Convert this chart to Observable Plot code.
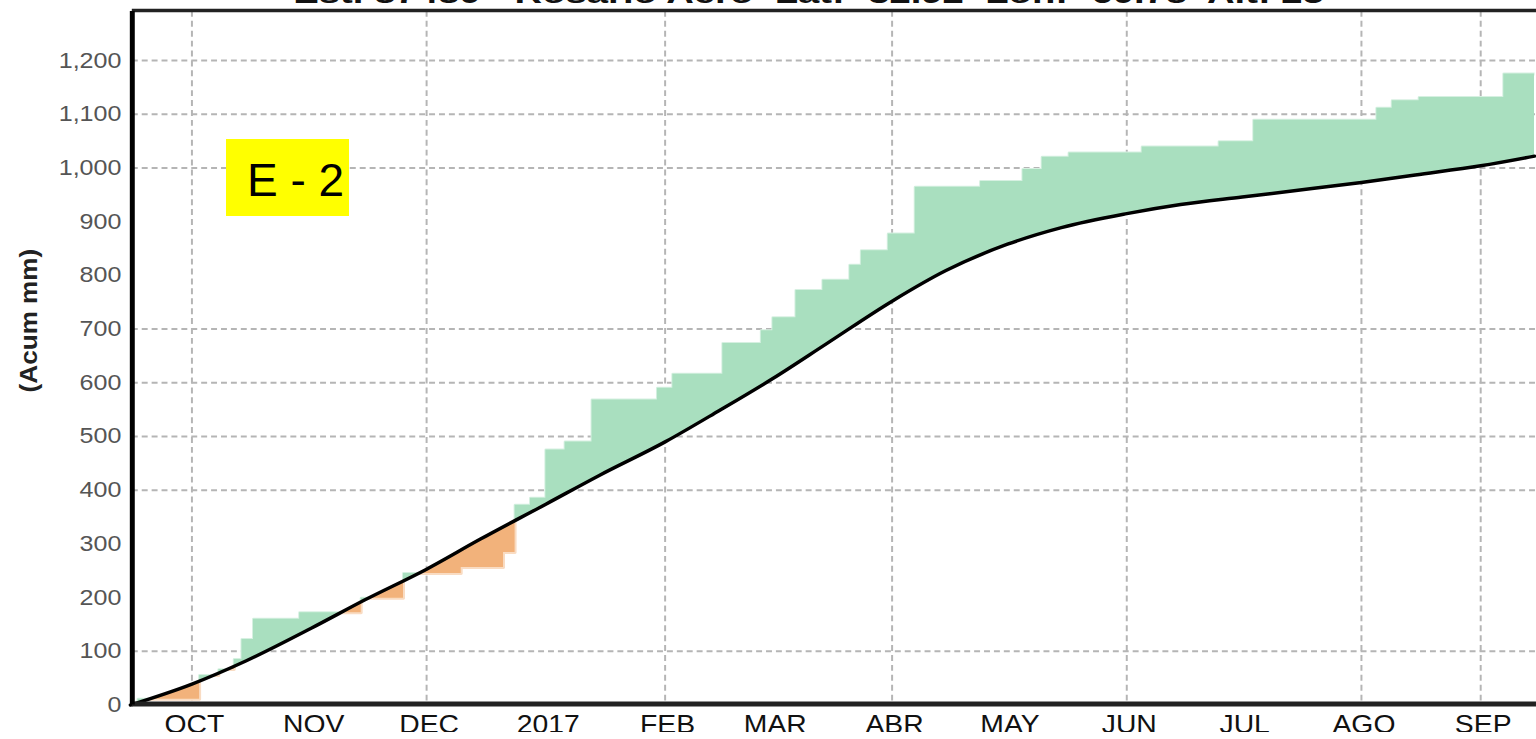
<!DOCTYPE html>
<html><head><meta charset="utf-8">
<script src="https://cdn.jsdelivr.net/npm/d3@7"></script>
<script src="https://cdn.jsdelivr.net/npm/@observablehq/plot@0.6"></script>
<style>
html,body{margin:0;padding:0;overflow:hidden;background:#fff;width:1536px;height:739px;}
#wrap{position:relative;width:1536px;height:739px;overflow:hidden;}
#badge{position:absolute;left:226px;top:139px;width:123px;height:77px;background:#ffff00;font-family:'Liberation Sans',Arial,sans-serif;font-size:46px;color:#000;}
#badge span{position:absolute;left:21px;top:18px;line-height:46px;white-space:nowrap;}
</style></head><body><div id="wrap"></div>
<script>
const stationTitle = "Est. 87480 - Rosario Aero  Lat: -32.92  Lon: -60.78  Alt: 25";
const badgeText = "E - 2";
const yAxisTitle = "(Acum mm)";
const periodStart = "2016-09-15T12:00Z";
const periodEnd = "2017-09-15T12:00Z";
const monthTickDates = ["2016-10-01","2016-11-01","2016-12-01","2017-01-01","2017-02-01","2017-03-01","2017-04-01","2017-05-01","2017-06-01","2017-07-01","2017-08-01","2017-09-01"];
const monthTickLabels = ["OCT","NOV","DEC","2017","FEB","MAR","ABR","MAY","JUN","JUL","AGO","SEP"];
const gridMonthDates = ["2016-10-01","2016-12-01","2017-02-01","2017-04-01","2017-06-01","2017-08-01","2017-09-01"];
const yTickValues = [0,100,200,300,400,500,600,700,800,900,1000,1100,1200];
const yGridValues = [100,400,500,600,700,1000,1100,1200];
const normalDates = ["2016-09-15","2016-10-01","2016-10-15","2016-11-01","2016-11-15","2016-12-01","2016-12-15","2017-01-01","2017-01-15","2017-02-01","2017-02-15","2017-03-01","2017-03-15","2017-04-01","2017-04-15","2017-05-01","2017-05-15","2017-06-01","2017-06-15","2017-07-01","2017-07-15","2017-08-01","2017-08-15","2017-09-01","2017-09-15"];
const normalValues = [0,39,82,143,196,253,309,374,428,490,548,608,673,752,809,858,889,915,932,946,958,973,987,1004,1022];
const observedDates = ["2016-09-15","2016-09-17","2016-10-03","2016-10-08","2016-10-12","2016-10-14","2016-10-17","2016-10-29","2016-11-14","2016-11-25","2016-12-10","2016-12-21","2016-12-24","2016-12-28","2017-01-01","2017-01-06","2017-01-13","2017-01-30","2017-02-03","2017-02-16","2017-02-26","2017-03-01","2017-03-07","2017-03-14","2017-03-21","2017-03-24","2017-03-31","2017-04-07","2017-04-24","2017-05-05","2017-05-10","2017-05-17","2017-06-05","2017-06-25","2017-07-04","2017-08-05","2017-08-09","2017-08-16","2017-09-07","2017-09-15"];
const observedValues = [0,11,55,66,85,122,160,172,199,245,256,284,372,385,475,490,568,590,616,673,697,721,772,791,819,846,877,964,975,997,1020,1028,1039,1049,1089,1111,1125,1131,1175,1175];

const normal = normalDates.map((d,i)=>({date:new Date(d), value:normalValues[i]}));
const observed = observedDates.map((d,i)=>({date:new Date(d), value:observedValues[i]}));
const labelByTime = new Map(monthTickDates.map((d,i)=>[+new Date(d), monthTickLabels[i]]));
const yTop = 1291.5;
const green="#a9dfbf", orange="#f2b27b", paleGreen="#d6f0e1", paleOrange="#f9dcc3", grid="#b5b5b5";

const chart = Plot.plot({
  width:1550, height:739, marginLeft:133, marginRight:0, marginTop:11, marginBottom:28,
  x:{type:"utc", domain:[new Date(periodStart), new Date(periodEnd)]},
  y:{domain:[0,yTop]},
  style:{fontFamily:"'Liberation Sans', Arial, sans-serif", background:"#fff"},
  marks:[
    Plot.ruleY(yGridValues, {stroke:grid, strokeWidth:2, strokeDasharray:"6,4"}),
    Plot.ruleX(gridMonthDates.map(d=>new Date(d)), {stroke:grid, strokeWidth:2, strokeDasharray:"6,4"}),
    Plot.areaY(normal, {x:"date", y1:"value", y2:yTop, curve:"monotone-x", ariaDescription:"clip-above"}),
    Plot.areaY(normal, {x:"date", y1:0, y2:"value", curve:"monotone-x", ariaDescription:"clip-below"}),
    Plot.lineY(observed, {x:"date", y:"value", curve:"step-after", stroke:paleGreen, strokeWidth:3, ariaDescription:"edge-above"}),
    Plot.lineY(observed, {x:"date", y:"value", curve:"step-after", stroke:paleOrange, strokeWidth:3, ariaDescription:"edge-below"}),
    Plot.areaY(observed, {x:"date", y1:0, y2:"value", curve:"step-after", fill:green, ariaDescription:"surplus"}),
    Plot.areaY(observed, {x:"date", y1:"value", y2:yTop, curve:"step-after", fill:orange, ariaDescription:"deficit"}),
    Plot.lineY(normal, {x:"date", y:"value", curve:"monotone-x", stroke:"#000", strokeWidth:3.5}),
    Plot.ruleY([0], {stroke:"#222", strokeWidth:5, dy:-1}),
    Plot.ruleY([yTop], {stroke:"#222", strokeWidth:3.5, dy:-1}),
    Plot.ruleX([new Date(periodStart)], {stroke:"#000", strokeWidth:5, y1:0, y2:yTop}),
    Plot.axisY(yTickValues, {tickSize:0, tickPadding:11, tickFormat:d3.format(","), fontSize:22, fill:"#555", label:null}),
    Plot.axisX(monthTickDates.map(d=>new Date(d)), {tickSize:0, tickPadding:6, dy:4, dx:2.5, tickFormat:d=>labelByTime.get(+d), fontSize:26, fill:"#111", label:null}),
    Plot.text([yAxisTitle], {frameAnchor:"left", textAnchor:"middle", rotate:-90, dx:-104, dy:-38, fontSize:24, fontWeight:"bold", fill:"#222", ariaDescription:"ytitle"})
  ]
});
const wrap = document.getElementById("wrap");
wrap.appendChild(chart);
const badge = document.createElement("div"); badge.id="badge";
const bs = document.createElement("span"); bs.textContent = badgeText; badge.appendChild(bs);
wrap.appendChild(badge);

const ns="http://www.w3.org/2000/svg";
const byDesc = (d, type, idx) => chart.querySelector(`g[aria-description="${d}"]`) || chart.querySelectorAll(`g[aria-label="${type}"]`)[idx];
const defs=document.createElementNS(ns,"defs"); chart.insertBefore(defs, chart.firstChild);
function toClip(g,id){
  if(!g) return;
  const cp=document.createElementNS(ns,"clipPath"); cp.setAttribute("id",id);
  g.querySelectorAll("path").forEach(p=>{
    const q=document.createElementNS(ns,"path"); q.setAttribute("d",p.getAttribute("d"));
    const t=[g.getAttribute("transform"),p.getAttribute("transform")].filter(Boolean).join(" ");
    if(t) q.setAttribute("transform",t);
    cp.appendChild(q);
  });
  defs.appendChild(cp);
  g.style.display="none";
}
const gClipAbove = byDesc("clip-above","area",0), gClipBelow = byDesc("clip-below","area",1);
const gSurplus = byDesc("surplus","area",2), gDeficit = byDesc("deficit","area",3);
const gEdgeA = byDesc("edge-above","line",0), gEdgeB = byDesc("edge-below","line",1);
toClip(gClipAbove,"clipAbove"); toClip(gClipBelow,"clipBelow");
[[gSurplus,"clipAbove"],[gEdgeA,"clipAbove"],[gDeficit,"clipBelow"],[gEdgeB,"clipBelow"]].forEach(([g,id])=>{ if(g) g.setAttribute("clip-path",`url(#${id})`); });
function stretch(sel, k){
  chart.querySelectorAll(sel).forEach(t=>{
    const w=t.getComputedTextLength(); t.setAttribute("textLength",w*k); t.setAttribute("lengthAdjust","spacingAndGlyphs");
  });
}
stretch('g[aria-label="y-axis tick label"] text', 1.15);
stretch('g[aria-label="x-axis tick label"] text', 1.1);
const yt = byDesc("ytitle","text",0);
if(yt){ const t=yt.querySelector("text"); if(t){ t.setAttribute("textLength",145); t.setAttribute("lengthAdjust","spacingAndGlyphs"); } }
const tt=document.createElementNS(ns,"text");
tt.setAttribute("x",296); tt.setAttribute("y",3); tt.setAttribute("font-size",28); tt.setAttribute("font-weight","bold"); tt.setAttribute("fill","#111");
tt.setAttribute("text-anchor","start");
tt.textContent=stationTitle; chart.appendChild(tt);
tt.setAttribute("textLength",1040); tt.setAttribute("lengthAdjust","spacingAndGlyphs");
</script></body></html>
